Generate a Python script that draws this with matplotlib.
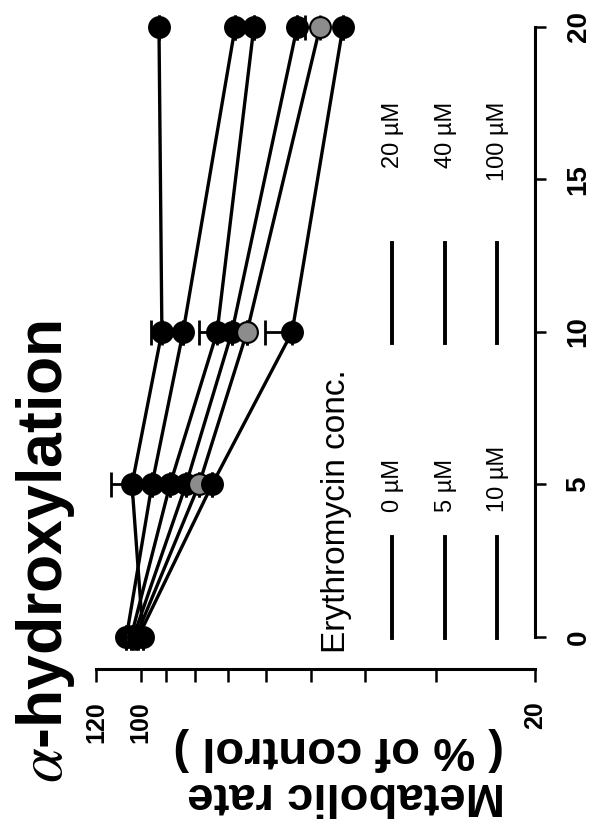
import matplotlib
matplotlib.use('Agg')
import matplotlib.pyplot as plt
from matplotlib.lines import Line2D
import numpy as np

plt.rcParams['font.family'] = ['Liberation Sans', 'DejaVu Sans']
plt.rcParams['mathtext.fontset'] = 'stix'

# Incubation time (min) and metabolic rate (% of control) per erythromycin conc.
time = [0, 5, 10, 20]
conc_labels = ['0 µM', '5 µM', '10 µM', '20 µM', '40 µM', '100 µM']
rate_0 = [99, 103.6, 91.7, 92.8]
rate_5 = [106, 95.5, 84.1, 68.0]
rate_10 = [104, 88.7, 73.2, 63.0]
rate_20 = [103, 83.1, 68.9, 52.8]
rate_40 = [102, 78.8, 64.8, 48.1]
rate_100 = [101, 74.7, 53.9, 43.8]

# upper error bars (only drawn on one side in the original)
err_0 = [0, 9.3, 4.2, 0]
err_5 = [0, 0, 0, 0]
err_10 = [0, 0, 5.7, 0]
err_20 = [0, 0, 0, 0]
err_40 = [0, 0, 0, 3.1]
err_100 = [0, 0, 6.2, 0]

rate_ticks = [20, 30, 40, 50, 60, 70, 80, 90, 100, 120]
rate_ticklabels = ['20', '', '', '', '', '', '', '', '100', '120']
time_ticks = [0, 5, 10, 15, 20]

series = [rate_0, rate_5, rate_10, rate_20, rate_40, rate_100]
errors = [err_0, err_5, err_10, err_20, err_40, err_100]
face = ['black', 'black', 'black', 'black', '#8c8c8c', 'black']

# the whole figure is turned 90 degrees: time runs up, rate runs right-to-left
fig = plt.figure(figsize=(5.94, 8.25), dpi=100)
ax = fig.add_axes([0.1616, 0.1891, 0.7391, 0.8085])

for vals, err, fc in zip(series, errors, face):
    ax.plot(vals, time, color='black', lw=2.4, zorder=2)
    ax.errorbar(vals, time, xerr=[np.zeros(len(err)), err], fmt='none',
                ecolor='black', elinewidth=2, capsize=9, capthick=2, zorder=2.5)
    ax.plot(vals, time, 'o', ms=15, mfc=fc, mec='black', mew=1.5, zorder=3)

ax.set_xscale('log')
ax.set_xlim(120, 20)
ax.set_ylim(-1.05, 20.82)

ax.set_xticks(rate_ticks)
ax.set_xticklabels(rate_ticklabels)
ax.xaxis.set_minor_locator(matplotlib.ticker.NullLocator())
ax.tick_params(axis='x', direction='out', length=9, width=1.8, pad=14,
               labelsize=18, labelrotation=90)

ax.yaxis.tick_right()
ax.set_yticks(time_ticks)
ax.tick_params(axis='y', direction='out', length=8, width=1.8, pad=14,
               labelsize=20, labelrotation=90)

for lab in ax.get_xticklabels() + ax.get_yticklabels():
    lab.set_fontweight('bold')
for lab in ax.get_yticklabels():
    lab.set_va('center')

ax.spines['top'].set_visible(False)
ax.spines['left'].set_visible(False)
ax.spines['right'].set_bounds(0, 20)
ax.spines['bottom'].set_bounds(20, 120)
ax.spines['right'].set_linewidth(2.2)
ax.spines['bottom'].set_linewidth(2.2)

# title and axis label (rotated with the figure)
fig.text(0.0758, 0.051, r'$\alpha$-hydroxylation', rotation=90, ha='center',
         va='bottom', fontsize=45, fontweight='bold')
fig.text(0.5825, 0.036, 'Metabolic rate', rotation=180, ha='center',
         va='center', fontsize=34, fontweight='bold')
fig.text(0.570, 0.092, '( % of control )', rotation=180, ha='center',
         va='center', fontsize=34, fontweight='bold')

# legend, drawn by hand because it is turned as well
fig.text(0.567, 0.2085, 'Erythromycin conc.', rotation=90, ha='center',
         va='bottom', fontsize=24)
leg_x = [0.660, 0.749, 0.837]
for i, lab in enumerate(conc_labels):
    x = leg_x[i % 3]
    if i < 3:
        fig.add_artist(Line2D([x, x], [0.2267, 0.3491], transform=fig.transFigure,
                              color='black', lw=2.8))
        fig.text(x + 0.002, 0.3794, lab, rotation=90, ha='center', va='bottom',
                 fontsize=17)
    else:
        fig.add_artist(Line2D([x, x], [0.5842, 0.7055], transform=fig.transFigure,
                              color='black', lw=2.8))
        fig.text(x + 0.002, 0.8764, lab, rotation=90, ha='center', va='top',
                 fontsize=17)

fig.savefig('out.png', dpi=100)
